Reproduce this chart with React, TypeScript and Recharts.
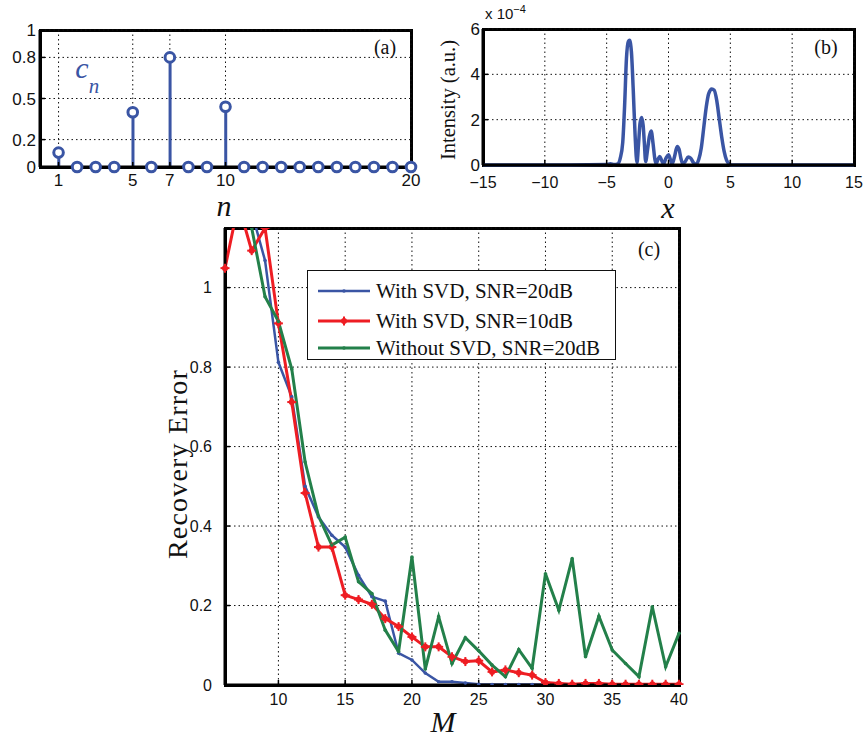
import type { JSX, ReactNode } from 'react';
import { ComposedChart, LineChart, Line, Bar, XAxis, YAxis, CartesianGrid } from 'recharts';

// panel (a): stem plot of c_n
const stemIndex = [1, 2, 3, 4, 5, 6, 7, 8, 9, 10, 11, 12, 13, 14, 15, 16, 17, 18, 19, 20];
const stemValues = [0.105, 0, 0, 0, 0.4, 0, 0.8, 0, 0, 0.44, 0, 0, 0, 0, 0, 0, 0, 0, 0, 0];
const stemTicksX = [1, 5, 7, 10, 20];
const stemTicksY = [0, 0.2, 0.5, 0.8, 1];

// panel (b): intensity profile, in units of 1e-4
const intensityX = [
    -15, -8, -5, -4.7, -4.4, -4.1, -3.9, -3.7, -3.55, -3.4, -3.25, -3.15, -3.0, -2.85, -2.7, -2.55,
    -2.42, -2.3, -2.17, -2.05, -1.95, -1.85, -1.7, -1.55, -1.4, -1.25, -1.1, -1.0, -0.85, -0.7, -0.55,
    -0.4, -0.2, 0, 0.15, 0.3, 0.5, 0.7, 0.85, 1.0, 1.15, 1.35, 1.6, 1.8, 2.0, 2.25, 2.45, 2.65, 2.85,
    3.05, 3.25, 3.5, 3.7, 3.9, 4.1, 4.3, 4.5, 4.7, 4.9, 5.1, 8, 15,
];
const intensityY = [
    0, 0, 0.02, 0.06, 0.02, 0.05, 0.3, 1.0, 2.6, 4.7, 5.45, 5.5, 5.0, 3.3, 1.3, 0.1,
    0.95, 1.85, 2.1, 1.75, 0.95, 0.15, 0.65, 1.25, 1.5, 0.95, 0.25, 0.05, 0.25, 0.38, 0.2,
    0.05, 0.3, 0.45, 0.25, 0.05, 0.4, 0.82, 0.7, 0.3, 0.05, 0.15, 0.35, 0.3, 0.12, 0.04, 0.25, 0.75, 1.65,
    2.55, 3.15, 3.35, 3.3, 2.85, 2.05, 1.25, 0.6, 0.2, 0.05, 0, 0, 0,
];
const intensityTicksX = [-15, -10, -5, 0, 5, 10, 15];
const intensityTicksY = [0, 2, 4, 6];

// panel (c): recovery error vs M
const measurements = [
    6, 7, 8, 9, 10, 11, 12, 13, 14, 15, 16, 17, 18, 19, 20, 21, 22, 23,
    24, 25, 26, 27, 28, 29, 30, 31, 32, 33, 34, 35, 36, 37, 38, 39, 40,
];
const errSvd20 = [
    1.35, 1.3, 1.19, 1.068, 0.812, 0.725, 0.5, 0.423, 0.377, 0.347, 0.276, 0.222, 0.211, 0.08, 0.063, 0.03, 0.008, 0.008,
    0.005, 0.002, 0.001, 0.001, 0.001, 0.001, 0.001, 0.001, 0.001, 0.001, 0.001, 0.001, 0.001, 0.001, 0.001, 0.001, 0.001,
];
const errSvd10 = [
    1.049, 1.21, 1.093, 1.15, 0.91, 0.712, 0.483, 0.347, 0.347, 0.226, 0.215, 0.203, 0.167, 0.147, 0.121, 0.096, 0.096, 0.071,
    0.059, 0.061, 0.033, 0.038, 0.031, 0.025, 0.006, 0.004, 0.002, 0.004, 0.004, 0.002, 0.002, 0.002, 0.002, 0.002, 0.002,
];
const errNoSvd20 = [
    1.6, 1.4, 1.15, 0.977, 0.915, 0.795, 0.561, 0.425, 0.352, 0.372, 0.26, 0.23, 0.138, 0.084, 0.322, 0.04, 0.172, 0.054,
    0.119, 0.086, 0.05, 0.021, 0.089, 0.042, 0.28, 0.188, 0.318, 0.071, 0.173, 0.088, 0.054, 0.021, 0.197, 0.046, 0.13,
];
const errTicksX = [10, 15, 20, 25, 30, 35, 40];
const errTicksY = [0, 0.2, 0.4, 0.6, 0.8, 1];
const legendLabels = ['With SVD, SNR=20dB', 'With SVD, SNR=10dB', 'Without SVD, SNR=20dB'];

const BLUE = '#3a55a4';
const RED = '#ee1d23';
const GREEN = '#23804a';
const INK = '#000';
const SANS = '"Liberation Sans", Arial, sans-serif';
const SERIF = '"Liberation Serif", "Times New Roman", serif';

const stemRows = stemIndex.map((n, i) => ({ n, c: stemValues[i] }));
const intensityRows = intensityX.map((x, i) => ({ x, v: intensityY[i] }));
const errRows = measurements.map((m, i) => ({ m, a: errSvd20[i], b: errSvd10[i], c: errNoSvd20[i] }));

const tickLineStyle = { stroke: INK, strokeWidth: 1.5 };
const boxLine = { stroke: INK, strokeWidth: 3 };
const gridProps = { stroke: '#111', strokeDasharray: '1.5 3', strokeWidth: 1 };
const minus = (v: number): string => String(v).replace('-', '\u2212');

interface TxtProps {
    'x': number;
    'y': number;
    'size': number;
    'family'?: string;
    'italic'?: boolean;
    'rotate'?: number;
    'color'?: string;
    'spacing'?: number;
    'lh'?: number;
    'children': ReactNode;
}

const Txt = ({ x, y, size, family = SERIF, italic, rotate, color = '#111', spacing, lh = 1, children }: TxtProps): JSX.Element => (
    <div
        style={{
            position: 'absolute',
            left: x,
            top: y,
            transform: `translate(-50%, -50%)${rotate ? ` rotate(${rotate}deg)` : ''}`,
            fontSize: size,
            fontFamily: family,
            fontStyle: italic ? 'italic' : 'normal',
            color,
            lineHeight: lh,
            whiteSpace: 'nowrap',
            letterSpacing: spacing,
        }}
    >
        {children}
    </div>
);

// one side of an axes box, a filled strip
const Side = ({ x, y, w, h }: { 'x': number; 'y': number; 'w': number; 'h': number }): JSX.Element => (
    <div style={{ position: 'absolute', left: x, top: y, width: w, height: h, background: INK, zIndex: 3 }} />
);

const Box = ({ x0, y0, x1, y1 }: { 'x0': number; 'y0': number; 'x1': number; 'y1': number }): JSX.Element => (
    <>
        <Side x={x0 - 1.5} y={y0 - 1.5} w={x1 - x0 + 3} h={3} />
        <Side x={x0 - 1.5} y={y1 - 1.5} w={x1 - x0 + 3} h={3} />
        <Side x={x0 - 1.5} y={y0 - 1.5} w={3} h={y1 - y0 + 3} />
        <Side x={x1 - 1.5} y={y0 - 1.5} w={3} h={y1 - y0 + 3} />
    </>
);

const ring = (props: any): JSX.Element => (
    <circle key={`r-${props.index}`} cx={props.cx} cy={props.cy} r={4.8} fill="#fff" stroke={BLUE} strokeWidth={3} />
);

const smallDot = (color: string) => (props: any): JSX.Element => (
    <circle key={`s-${props.index}`} cx={props.cx} cy={props.cy} r={1.8} fill={color} />
);

const plusDot = (props: any): JSX.Element => (
    <g key={`p-${props.index}`}>
        <circle cx={props.cx} cy={props.cy} r={3} fill={RED} />
        <line x1={props.cx - 4.5} x2={props.cx + 4.5} y1={props.cy} y2={props.cy} stroke={RED} strokeWidth={2} />
        <line x1={props.cx} x2={props.cx} y1={props.cy - 4.5} y2={props.cy + 4.5} stroke={RED} strokeWidth={2} />
    </g>
);

const ErrLegend = (): JSX.Element => {
    const colors = [BLUE, RED, GREEN];
    const rowY = [20, 50, 77];
    return (
        <div
            style={{
                position: 'absolute',
                left: 307,
                top: 270,
                width: 309,
                height: 90,
                border: '1px solid #111',
                background: '#fff',
                boxSizing: 'border-box',
                zIndex: 6,
            }}
        >
            {legendLabels.map((label, i) => (
                <div key={label} style={{ position: 'absolute', left: 0, top: rowY[i] - 15, height: 30, display: 'flex', alignItems: 'center' }}>
                    <svg width={68} height={30}>
                        <line x1={10} x2={62} y1={15} y2={15} stroke={colors[i]} strokeWidth={i === 0 ? 2.5 : 3} />
                        {i === 1 ? plusDot({ cx: 36, cy: 15, index: 0 }) : <circle cx={36} cy={15} r={1.8} fill={colors[i]} />}
                    </svg>
                    <span style={{ fontFamily: SERIF, fontSize: 21, color: '#111' }}>{label}</span>
                </div>
            ))}
        </div>
    );
};

export default function App (): JSX.Element {
    return (
        <div style={{ position: 'absolute', left: 0, top: 0, width: 867, height: 737, background: '#fff', overflow: 'hidden' }}>
            <Box x0={40} y0={30} x1={411} y1={167} />
            <Box x0={483} y0={29} x1={854} y1={165} />
            <Box x0={225} y0={228} x1={679} y1={685} />

            {/* (a) */}
            <div style={{ position: 'absolute', left: 0, top: 0, zIndex: 4 }}>
                <ComposedChart width={440} height={200} data={stemRows} margin={{ top: 30, right: 29, bottom: 8, left: 4 }}>
                    <CartesianGrid {...gridProps} />
                    <XAxis dataKey="n" type="number" domain={[0, 20]} ticks={stemTicksX} interval={0} height={25}
                        axisLine={boxLine} tickSize={-5} tickMargin={12} tickLine={tickLineStyle}
                        tick={{ fill: '#111', fontSize: 17, fontFamily: SANS }} />
                    <YAxis type="number" domain={[0, 1]} ticks={stemTicksY} interval={0} width={36}
                        axisLine={boxLine} tickSize={-5} tickMargin={9} tickLine={tickLineStyle}
                        tick={{ fill: '#111', fontSize: 17, fontFamily: SANS }} />
                    <Bar dataKey="c" barSize={3} fill={BLUE} isAnimationActive={false} />
                    <Line dataKey="c" stroke="none" dot={ring} activeDot={false} isAnimationActive={false} />
                </ComposedChart>
            </div>

            {/* (b) */}
            <div style={{ position: 'absolute', left: 430, top: 0, zIndex: 4 }}>
                <LineChart width={437} height={200} data={intensityRows} margin={{ top: 29, right: 13, bottom: 10, left: 23 }}>
                    <CartesianGrid {...gridProps} />
                    <XAxis dataKey="x" type="number" domain={[-15, 15]} ticks={intensityTicksX} interval={0} height={25}
                        axisLine={boxLine} tickSize={-5} tickMargin={17} tickLine={tickLineStyle} tickFormatter={minus}
                        tick={{ fill: '#111', fontSize: 16, fontFamily: SANS }} />
                    <YAxis type="number" domain={[0, 6]} ticks={intensityTicksY} interval={0} width={30}
                        axisLine={boxLine} tickSize={-5} tickMargin={8} tickLine={tickLineStyle}
                        tick={{ fill: '#111', fontSize: 17, fontFamily: SANS }} />
                    <Line type="monotone" dataKey="v" stroke={BLUE} strokeWidth={3.5} dot={false} activeDot={false} isAnimationActive={false} />
                </LineChart>
            </div>

            {/* (c) */}
            <div style={{ position: 'absolute', left: 150, top: 215, zIndex: 4 }}>
                <LineChart width={540} height={522} data={errRows} margin={{ top: 13, right: 11, bottom: 22, left: 35 }}>
                    <CartesianGrid {...gridProps} />
                    <XAxis dataKey="m" type="number" domain={[6, 40]} ticks={errTicksX} interval={0} height={30}
                        axisLine={boxLine} tickSize={-5} tickMargin={14} tickLine={tickLineStyle}
                        tick={{ fill: '#111', fontSize: 16, fontFamily: SANS }} />
                    <YAxis type="number" domain={[0, 1.15]} allowDataOverflow ticks={errTicksY} interval={0} width={40}
                        axisLine={boxLine} tickSize={-5} tickMargin={18} tickLine={tickLineStyle}
                        tick={{ fill: '#111', fontSize: 16, fontFamily: SANS }} />
                    <Line type="linear" dataKey="a" stroke={BLUE} strokeWidth={2.5} dot={smallDot(BLUE)} activeDot={false} isAnimationActive={false} />
                    <Line type="linear" dataKey="b" stroke={RED} strokeWidth={3} dot={plusDot} activeDot={false} isAnimationActive={false} />
                    <Line type="linear" dataKey="c" stroke={GREEN} strokeWidth={3} dot={smallDot(GREEN)} activeDot={false} isAnimationActive={false} />
                </LineChart>
            </div>
            <ErrLegend />

            {/* labels */}
            <Txt x={385} y={47} size={20}>(a)</Txt>
            <Txt x={826} y={47} size={20}>(b)</Txt>
            <Txt x={649} y={249} size={20}>(c)</Txt>
            <Txt x={82} y={68} size={30} italic color={BLUE}>c</Txt>
            <Txt x={94} y={86} size={21} italic color={BLUE}>n</Txt>
            <Txt x={224} y={205} size={30} italic lh={0.7}>n</Txt>
            <Txt x={668} y={207} size={30} italic lh={0.7}>x</Txt>
            <Txt x={448} y={100} size={20.5} rotate={-90} lh={0.9}>Intensity (a.u.)</Txt>
            <div style={{ position: 'absolute', left: 485, top: 6, fontFamily: SANS, fontSize: 15, color: '#111', lineHeight: 1, whiteSpace: 'nowrap' }}>
                x 10<sup style={{ fontSize: 11, verticalAlign: 'top', position: 'relative', top: -2 }}>{'\u22124'}</sup>
            </div>
            <Txt x={178} y={464} size={28} rotate={-90} spacing={1.2}>Recovery Error</Txt>
            <Txt x={443} y={722} size={30} italic>M</Txt>
        </div>
    );
}
